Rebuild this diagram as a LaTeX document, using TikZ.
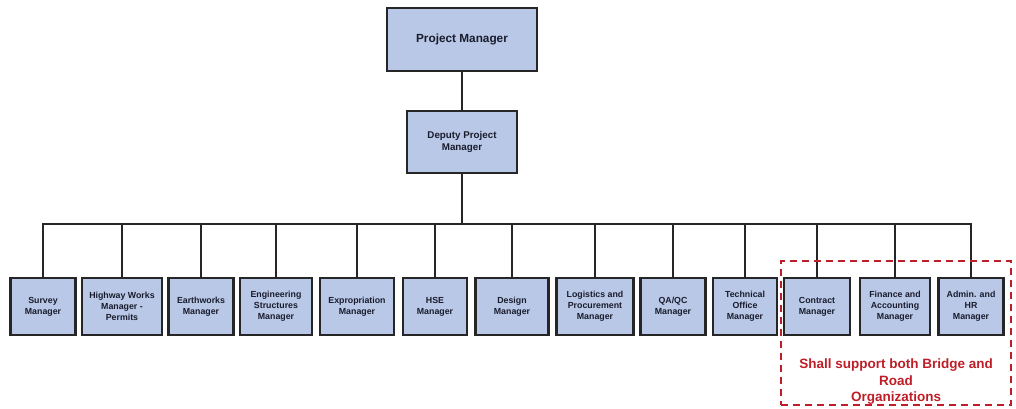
\documentclass[tikz,border=0pt]{standalone}
\usepackage{fontspec}
\setmainfont{Liberation Sans}
\usetikzlibrary{positioning}
\definecolor{boxfill}{RGB}{185,200,230}
\definecolor{boxtext}{RGB}{25,28,45}
\definecolor{grpred}{RGB}{190,30,40}
\begin{document}
\begin{tikzpicture}[x=1pt,y=-1pt,
  rolebox/.style={draw=black!85, line width=2.2pt, fill=boxfill, text=boxtext,
    align=center, inner sep=1pt, font=\bfseries\fontsize{8.8}{10.8}\selectfont},
  lowbox/.style={rolebox, minimum height=57pt},
  link/.style={draw=black!85, line width=1.8pt}]
\useasboundingbox (0,0) rectangle (1016,408);

% top of the hierarchy
\node[rolebox, minimum width=150pt, minimum height=63pt,
  font=\bfseries\fontsize{11.8}{13}\selectfont] (pm) at (462,39.5) {Project Manager};
\node[rolebox, minimum width=110pt, minimum height=62pt,
  font=\bfseries\fontsize{9.8}{12}\selectfont] (dpm) at (462,142) {Deputy Project\\ Manager};

% department managers
\node[lowbox, minimum width=65pt] (b1) at (43,306.5) {Survey\\Manager};
\node[lowbox, minimum width=80pt] (b2) at (122,306.5) {Highway Works\\Manager -\\Permits};
\node[lowbox, minimum width=65pt] (b3) at (201,306.5) {Earthworks\\Manager};
\node[lowbox, minimum width=72pt] (b4) at (276,306.5) {Engineering\\Structures\\Manager};
\node[lowbox, minimum width=74pt] (b5) at (357,306.5) {Expropriation\\Manager};
\node[lowbox, minimum width=64pt] (b6) at (435,306.5) {HSE\\Manager};
\node[lowbox, minimum width=73pt] (b7) at (512,306.5) {Design\\Manager};
\node[lowbox, minimum width=77pt] (b8) at (595,306.5) {Logistics and\\Procurement\\Manager};
\node[lowbox, minimum width=65pt] (b9) at (673,306.5) {QA/QC\\Manager};
\node[lowbox, minimum width=64pt] (b10) at (745,306.5) {Technical\\Office\\Manager};
\node[lowbox, minimum width=66pt] (b11) at (817,306.5) {Contract\\Manager};
\node[lowbox, minimum width=70pt] (b12) at (895,306.5) {Finance and\\Accounting\\Manager};
\node[lowbox, minimum width=65pt] (b13) at (971,306.5) {Admin. and\\HR\\Manager};

% connectors
\coordinate (bus) at (462,224);
\draw[link] (pm.south) -- (dpm.north);
\draw[link] (dpm.south) -- (bus);
\foreach \i in {1,...,13} {
  \draw[link] (b\i.north) |- (bus);
}

% shared-services group
\node[draw=grpred, dashed, dash pattern=on 7pt off 5pt, line width=1.8pt,
  minimum width=230pt, minimum height=144pt] (grp) at (896,333) {};
\node[text=grpred, align=center, font=\bfseries\fontsize{13.5}{16.5}\selectfont]
  (grpnote) at (896,382) {Shall support both Bridge and\\Road\\Organizations};
\end{tikzpicture}
\end{document}
